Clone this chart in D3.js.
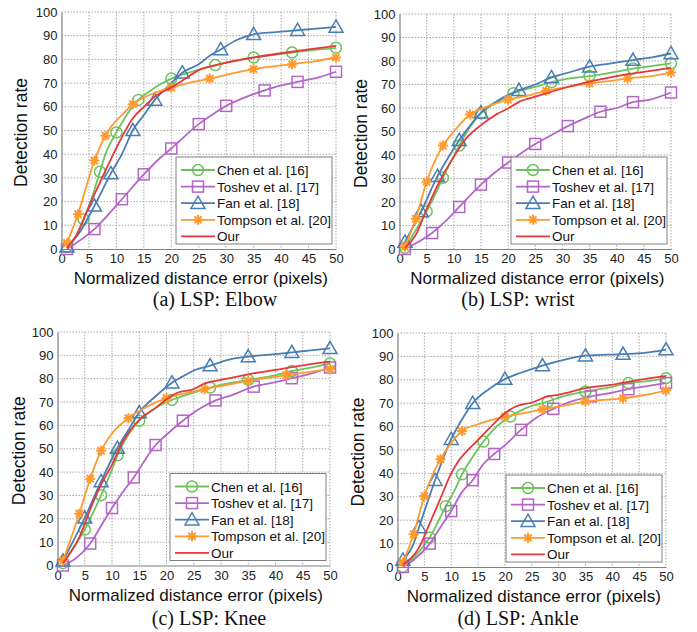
<!DOCTYPE html>
<html><head><meta charset="utf-8">
<script src="https://cdn.jsdelivr.net/npm/d3@7"></script>
<style>
body{margin:0;background:#fff;}
svg{display:block;font-family:"Liberation Sans",Arial,sans-serif;}
</style></head>
<body>
<svg id="chart" width="697" height="632"></svg>
<script>
// ---- data ----
const xTicks = [0,5,10,15,20,25,30,35,40,45,50];
const yTicks = [0,10,20,30,40,50,60,70,80,90,100];
const seriesNames = ["Chen et al. [16]","Toshev et al. [17]","Fan et al. [18]","Tompson et al. [20]","Our"];
const captions = ["(a) LSP: Elbow","(b) LSP: wrist","(c) LSP: Knee","(d) LSP: Ankle"];
const xLabel = "Normalized distance error (pixels)";
const yLabel = "Detection rate";

// [x, y, marker?]
const chenA = [[1,1,1],[2,3,0],[4,12.6,1],[5,18,0],[7,32.6,1],[8,40,0],[10,49.2,1],[12,57,0],[14,62.9,1],[16,66.5,0],[18,69.5,0],[20,71.9,1],[24,75,0],[28,77.6,1],[31,79.2,0],[35,80.8,1],[42,82.9,1],[46,84,0],[50,84.9,1]];
const toshevA = [[1,0,1],[6,8.4,1],[11,21,1],[15,31.5,1],[18,38.5,0],[20,42.4,1],[25,52.7,1],[28,57.5,0],[30,60.4,1],[34,64.5,0],[37,66.9,1],[40,69,0],[43,70.5,1],[47,72.5,0],[50,74.8,1]];
const fanA = [[1,1,1],[3,6,0],[6,18.2,1],[9,31.9,1],[11,40,0],[13,50.1,1],[15,56.5,0],[17,62.9,1],[20,70,0],[22,74.4,1],[25,78,0],[27,81.5,0],[29,84.2,1],[32,88.3,0],[35,90.6,1],[39,91.5,0],[43,92.3,1],[50,93.7,1]];
const tompsonA = [[1,2.5,1],[3,14.7,1],[6,37.3,1],[8,47.8,1],[9,51.5,0],[11,56.5,0],[13,61.1,1],[16,65,0],[20,68.1,1],[24,70.5,0],[27,71.9,1],[30,73.5,0],[35,75.9,1],[42,78,1],[46,79.2,0],[50,80.8,1]];
const ourA = [[1,0.5,0],[3,7,0],[5,18,0],[7,28,0],[8,33,0],[10,42.7,0],[13,55.2,0],[15,60,0],[17,64.3,0],[20,68.2,0],[22,71,0],[25,75.5,0],[28,77.5,0],[30,78.6,0],[35,80.8,0],[40,82.6,0],[45,84.2,0],[50,85.7,0]];

const chenB = [[1,0.5,1],[3,8,0],[5,16,1],[6,20.5,0],[8,30.3,1],[11,44,1],[13,52,0],[15,57.7,1],[18,62.5,0],[21,66.3,1],[25,69,0],[28,71,1],[31,72.5,0],[35,73.6,1],[40,75.5,0],[43,76.8,1],[47,78,0],[50,79,1]];
const toshevB = [[1,0,1],[6,6.8,1],[9,13,0],[11,17.9,1],[15,27.4,1],[17,31.5,0],[20,36.8,1],[25,44.7,1],[28,48.5,0],[31,52.3,1],[34,55.5,0],[37,58.4,1],[40,60,0],[43,62.5,1],[46,63.5,0],[50,66.6,1]];
const fanB = [[1,3,1],[4,16,1],[7,31,1],[9,39,0],[11,46.3,1],[13,52.5,0],[15,58,1],[18,63,0],[22,67.6,1],[25,70,0],[28,73,1],[31,75,0],[35,77.6,1],[39,79,0],[43,80.4,1],[47,81.8,0],[50,83.2,1]];
const tompsonB = [[1,1,1],[3,12.9,1],[5,28.6,1],[8,44,1],[10,50,0],[13,57.2,1],[16,60.5,0],[20,63.5,1],[24,65.5,0],[27,67.3,1],[31,69,0],[35,70.5,1],[39,71.5,0],[42,72.6,1],[46,73.5,0],[50,75.1,1]];
const ourB = [[1,0.5,0],[3,6,0],[5,17,0],[8,31.5,0],[10,39.2,0],[12,46.3,0],[15,52.7,0],[18,57.5,0],[20,59.8,0],[22,62.6,0],[25,64.8,0],[30,68.3,0],[35,71.2,0],[40,73.6,0],[45,75.4,0],[50,77.1,0]];

const chenC = [[1,1,1],[3,8,0],[5,15.4,1],[8,30.1,1],[10,41,0],[11,47.2,1],[13,56,0],[15,62,1],[18,67.5,0],[21,70.9,1],[25,74,0],[28,76.2,1],[32,78.3,0],[35,79.5,1],[39,81,0],[43,83.3,1],[47,85,0],[50,86.5,1]];
const toshevC = [[1,0,1],[3,2.5,0],[6,9.4,1],[8,17,0],[10,24.6,1],[12,31.5,0],[14,37.7,1],[16,45,0],[18,51.6,1],[20,56,0],[23,62,1],[26,67,0],[29,70.7,1],[32,73,0],[36,76.6,1],[40,78.5,0],[43,80.2,1],[47,82.5,0],[50,84.8,1]];
const fanC = [[1,2,1],[3,11,0],[5,20.4,1],[8,36,1],[11,50.3,1],[13,58,0],[15,65.5,1],[18,72.5,0],[21,78.3,1],[23,81,0],[25,83.5,0],[28,85.6,1],[32,88.5,0],[35,89.5,1],[39,90.3,0],[43,91.3,1],[46,92,0],[50,93,1]];
const tompsonC = [[1,2,1],[4,22.2,1],[6,37.2,1],[8,49.1,1],[10,56.5,0],[13,63.1,1],[16,67.5,0],[20,71.7,1],[24,74,0],[27,75.5,1],[31,77.3,0],[35,79.1,1],[39,80.5,0],[42,81.5,1],[46,82.8,0],[50,84.2,1]];
const ourC = [[1,1,0],[4,12,0],[6,24,0],[8,34.6,0],[10,43.2,0],[12,53.1,0],[15,62.4,0],[18,67.5,0],[20,71.2,0],[22,74,0],[25,75.5,0],[27,78,0],[30,79.5,0],[35,81.9,0],[40,83.8,0],[45,85.7,0],[50,87.3,0]];

const chenD = [[1,0,1],[3,4,0],[6,12.6,1],[9,26,1],[11,34.5,0],[12,39.6,1],[14,47,0],[16,53.6,1],[18,59,0],[21,64.3,1],[24,68,0],[28,70.7,1],[31,73,0],[35,75,1],[39,76.5,0],[43,78.6,1],[47,79.5,0],[50,80.7,1]];
const toshevD = [[1,0,1],[3,3,0],[6,10,1],[8,17,0],[10,23.9,1],[12,32,0],[14,37.1,1],[16,44,0],[18,48.3,1],[20,52,0],[23,58.6,1],[26,64,0],[29,67.6,1],[32,70.5,0],[36,72.9,1],[40,74.5,0],[43,76,1],[47,77.5,0],[50,78.6,1]];
const fanD = [[1,3,1],[3,10,0],[4,16.9,1],[7,37.1,1],[10,54.6,1],[12,63,0],[14,70,1],[17,76,0],[20,80.3,1],[23,83,0],[27,86.1,1],[31,88.5,0],[35,90.3,1],[42,91,1],[46,91.5,0],[50,92.9,1]];
const tompsonD = [[1,2,1],[3,14,1],[5,30.3,1],[8,46.1,1],[10,53,0],[12,58.1,1],[15,61,0],[20,64.3,1],[24,66,0],[27,67.4,1],[31,69,0],[35,70.7,1],[39,71.5,0],[42,72.1,1],[46,73.5,0],[50,75.4,1]];
const ourD = [[1,1,0],[4,8.3,0],[6,18.6,0],[8,29.3,0],[10,40,0],[11,44,0],[15,54.3,0],[18,61.4,0],[20,65.7,0],[22,68.6,0],[25,70.3,0],[28,72.9,0],[30,73.6,0],[35,76.4,0],[40,77.9,0],[45,80,0],[50,81.7,0]];

// ---- styles ----
const colors = ["#6cc35c","#b366c6","#4a7db3","#ff9a2e","#e8373b"];
const markers = ["circle","square","triangle","star","none"];

const panelData = [
  [chenA,toshevA,fanA,tompsonA,ourA],
  [chenB,toshevB,fanB,tompsonB,ourB],
  [chenC,toshevC,fanC,tompsonC,ourC],
  [chenD,toshevD,fanD,tompsonD,ourD]
];
const layouts = [
  {l:61.5,t:12,r:336,b:249, capX:215, capY:306, yLabX:21},
  {l:399.5,t:14,r:671,b:249, capX:518, capY:306, yLabX:361},
  {l:57.5,t:332,r:330,b:565.5, capX:209, capY:625, yLabX:19},
  {l:397.5,t:333,r:666,b:567, capX:518, capY:625, yLabX:358}
];

const svg = d3.select("#chart");

function drawMarker(g, type, cx, cy, color){
  if(type==="circle"){
    g.append("circle").attr("cx",cx).attr("cy",cy).attr("r",5.5)
      .attr("fill","none").attr("stroke",color).attr("stroke-width",1.5);
  } else if(type==="square"){
    g.append("rect").attr("x",cx-5.5).attr("y",cy-5.5).attr("width",11).attr("height",11)
      .attr("fill","none").attr("stroke",color).attr("stroke-width",1.5);
  } else if(type==="triangle"){
    const s=7;
    g.append("path").attr("d",`M${cx},${cy-s}L${cx+s},${cy+s*0.75}L${cx-s},${cy+s*0.75}Z`)
      .attr("fill","none").attr("stroke",color).attr("stroke-width",1.5);
  } else if(type==="star"){
    const s=5, d=3.6;
    g.append("path").attr("d",`M${cx-s},${cy}L${cx+s},${cy}M${cx},${cy-s}L${cx},${cy+s}M${cx-d},${cy-d}L${cx+d},${cy+d}M${cx-d},${cy+d}L${cx+d},${cy-d}`)
      .attr("fill","none").attr("stroke",color).attr("stroke-width",2);
  }
}

layouts.forEach((L,pi)=>{
  const x = d3.scaleLinear().domain([0,50]).range([L.l,L.r]);
  const y = d3.scaleLinear().domain([0,100]).range([L.b,L.t]);
  const g = svg.append("g");

  // grid
  g.append("g").selectAll("line").data(xTicks.slice(1)).join("line")
    .attr("x1",d=>x(d)).attr("x2",d=>x(d)).attr("y1",L.t).attr("y2",L.b)
    .attr("stroke","#a8a8a8").attr("stroke-width",1).attr("stroke-dasharray","1.5,1.5");
  g.append("g").selectAll("line").data(yTicks.slice(1)).join("line")
    .attr("y1",d=>y(d)).attr("y2",d=>y(d)).attr("x1",L.l).attr("x2",L.r)
    .attr("stroke","#a8a8a8").attr("stroke-width",1).attr("stroke-dasharray","1.5,1.5");

  // axes
  const xa = g.append("g").attr("transform",`translate(0,${L.b})`)
    .call(d3.axisBottom(x).tickValues(xTicks).tickSize(0).tickPadding(5));
  const ya = g.append("g").attr("transform",`translate(${L.l},0)`)
    .call(d3.axisLeft(y).tickValues(yTicks).tickSize(0).tickPadding(4));
  [xa,ya].forEach(a=>{
    a.select(".domain").attr("stroke","#808080").attr("stroke-width",1.2);
    a.selectAll("text").attr("font-size",13).attr("fill","#222")
      .attr("font-family",'"Liberation Sans",Arial,sans-serif');
  });

  // axis labels
  g.append("text").attr("x",(L.l+L.r)/2+2).attr("y",L.b+35).attr("text-anchor","middle")
    .attr("font-size",17).attr("fill","#111").text(xLabel);
  g.append("text").attr("transform",`translate(${L.yLabX+6},${(L.t+L.b)/2+2}) rotate(-90)`)
    .attr("text-anchor","middle").attr("font-size",17.5).attr("fill","#111").text(yLabel);

  // caption
  g.append("text").attr("x",L.capX).attr("y",L.capY).attr("text-anchor","middle")
    .attr("font-family",'"Liberation Serif","Times New Roman",serif')
    .attr("font-size",20).attr("fill","#111").text(captions[pi]);

  // series
  const line = d3.line().x(d=>x(d[0])).y(d=>y(d[1])).curve(d3.curveMonotoneX);
  panelData[pi].forEach((ser,si)=>{
    g.append("path").datum(ser).attr("d",line).attr("fill","none")
      .attr("stroke",colors[si]).attr("stroke-width",1.8);
    const mg = g.append("g");
    ser.filter(d=>d[2]).forEach(d=>drawMarker(mg,markers[si],x(d[0]),y(d[1]),colors[si]));
  });

  // legend
  const lw=156, lh=87;
  const lx = L.r-4-lw, ly = L.b-5-lh;
  const lg = g.append("g").attr("transform",`translate(${lx},${ly})`);
  lg.append("rect").attr("width",lw).attr("height",lh).attr("fill","#fff")
    .attr("stroke","#808080").attr("stroke-width",1);
  seriesNames.forEach((nm,si)=>{
    const ry = 13 + si*16.6;
    lg.append("line").attr("x1",5).attr("x2",39).attr("y1",ry).attr("y2",ry)
      .attr("stroke",colors[si]).attr("stroke-width",1.8);
    drawMarker(lg,markers[si],22,ry,colors[si]);
    lg.append("text").attr("x",41).attr("y",ry+5).attr("font-size",13.5).attr("fill","#111").text(nm);
  });
});
</script>
</body></html>
